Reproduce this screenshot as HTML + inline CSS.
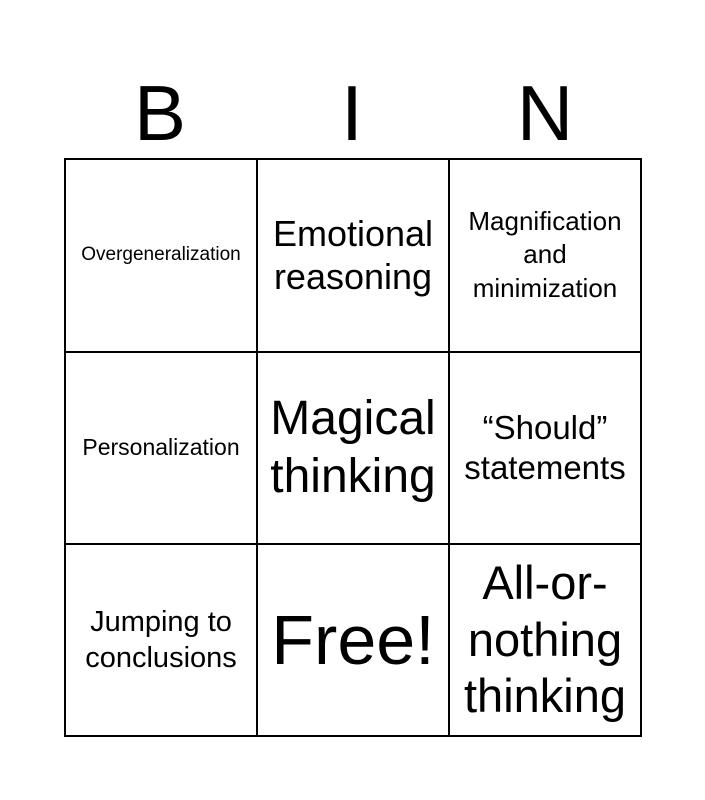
<!DOCTYPE html>
<html><head><style>
body{margin:0;width:705px;height:800px;background:#fff;font-family:"Liberation Sans",sans-serif;position:relative;overflow:hidden}
.h{position:absolute;top:68px;width:192px;text-align:center;font-size:78px;line-height:90px}
.c{position:absolute;width:192px;height:192px;display:flex;align-items:center;justify-content:center;text-align:center;line-height:1.2}
svg{position:absolute;left:0;top:0}
</style></head><body>
<div class="h" style="left:64px">B</div>
<div class="h" style="left:256px">I</div>
<div class="h" style="left:449px">N</div>
<svg width="705" height="800"><g stroke="#000" stroke-width="2" fill="none">
<rect x="65" y="159" width="576" height="577"/>
<line x1="257" y1="159" x2="257" y2="736"/><line x1="449" y1="159" x2="449" y2="736"/>
<line x1="65" y1="352" x2="641" y2="352"/><line x1="65" y1="544" x2="641" y2="544"/>
</g></svg>
<div class="c" style="left:65px;top:159px;font-size:19px">Overgeneralization</div>
<div class="c" style="left:257px;top:159px;font-size:36px">Emotional reasoning</div>
<div class="c" style="left:449px;top:159px;font-size:26px;line-height:1.27">Magnification and minimization</div>
<div class="c" style="left:65px;top:352px;font-size:23px">Personalization</div>
<div class="c" style="left:257px;top:352px;font-size:48px">Magical thinking</div>
<div class="c" style="left:449px;top:352px;font-size:33px">“Should” statements</div>
<div class="c" style="left:65px;top:544px;font-size:29px;line-height:1.25">Jumping to conclusions</div>
<div class="c" style="left:257px;top:544px;font-size:70px">Free!</div>
<div class="c" style="left:449px;top:544px;font-size:47px">All-or-nothing thinking</div>
</body></html>
